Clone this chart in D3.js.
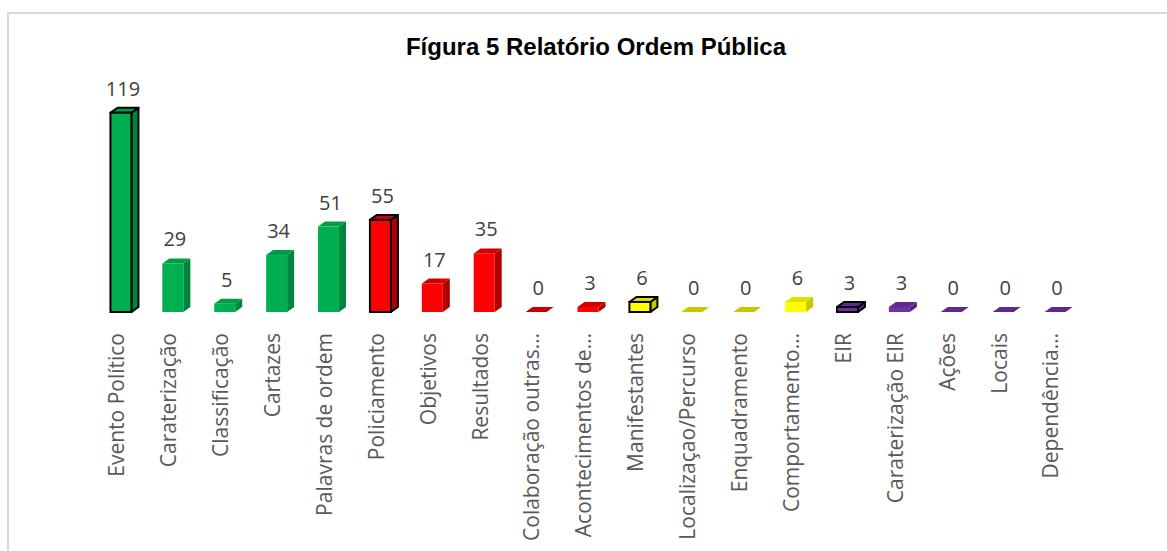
<!DOCTYPE html>
<meta charset="utf-8">
<head>
    <style>
        body {margin: 0; background: #fff;}
        .cat {font-family: "Open Sans", sans-serif; font-size: 21px; fill: #595959;}
        .val {font-family: "Open Sans", sans-serif; font-size: 20px; fill: #404040;}
        .title {font-family: "Liberation Sans", Arial, sans-serif; font-size: 24px; font-weight: bold; fill: #000;}
    </style>
    <script src="https://d3js.org/d3.v7.min.js"></script>
</head>
<body>
<script>

    var categories = ["Evento Político", "Caraterização", "Classificação", "Cartazes", "Palavras de ordem",
        "Policiamento", "Objetivos", "Resultados", "Colaboração outras…", "Acontecimentos de…",
        "Manifestantes", "Localizaçao/Percurso", "Enquadramento", "Comportamento…", "EIR",
        "Caraterização EIR", "Ações", "Locais", "Dependência…"],
        values = [119, 29, 5, 34, 51, 55, 17, 35, 0, 3, 6, 0, 0, 6, 3, 3, 0, 0, 0],
        groups = ["g", "g", "g", "g", "g", "r", "r", "r", "r", "r", "y", "y", "y", "y", "p", "p", "p", "p", "p"],
        outlined = ["Evento Político", "Policiamento", "Manifestantes", "EIR"];

    // front, side, top, flat (zero bar)
    var palette = {
        g: ["#00b050", "#00853c", "#009c46", "#009c46"],
        r: ["#ff0000", "#b00000", "#d00000", "#c80000"],
        y: ["#ffff00", "#c8c800", "#e0e000", "#c8c800"],
        p: ["#7030a0", "#552478", "#622a8c", "#602890"]
    };

    var width = 1167, height = 551,
        faceW = 21, dx = 7, dy = 5;

    var svg = d3.select("body").append("svg")
        .attr("width", width)
        .attr("height", height);

    svg.append("rect")
        .attr("x", 8).attr("y", 13)
        .attr("width", 1200).attr("height", 600)
        .attr("fill", "none")
        .attr("stroke", "#d9d9d9")
        .attr("stroke-width", 2);

    svg.append("text")
        .attr("class", "title")
        .attr("x", 596).attr("y", 55)
        .attr("text-anchor", "middle")
        .text("Fígura 5 Relatório Ordem Pública");

    var x = d3.scaleBand()
        .domain(categories)
        .range([92, 1078])
        .padding(0);

    var y = d3.scaleLinear()
        .domain([0, 119])
        .range([312, 112.7]);

    var rows = categories.map(function(c, i) {
        return {name: c, value: values[i], group: groups[i], hi: outlined.indexOf(c) >= 0};
    });

    function cx(d) { return x(d.name) + x.bandwidth() / 2; }

    var bars = svg.append("g").selectAll("g")
        .data(rows)
      .enter().append("g");

    bars.each(function(d) {
        var g = d3.select(this),
            col = palette[d.group],
            x0 = cx(d) - 7.5,
            x1 = x0 + faceW,
            yt = y(d.value),
            yb = y(0),
            stroke = d.hi ? "#000" : "none",
            sw = d.hi ? 2 : 0;

        if (d.value === 0) {
            g.append("path")
                .attr("d", "M" + x0 + "," + yb + "L" + x1 + "," + yb + "L" + (x1 + dx) + "," + (yb - dy) +
                    "L" + (x0 + dx) + "," + (yb - dy) + "Z")
                .attr("fill", col[3]);
            return;
        }
        // side
        g.append("path")
            .attr("d", "M" + x1 + "," + yb + "L" + (x1 + dx) + "," + (yb - dy) + "L" + (x1 + dx) + "," + (yt - dy) +
                "L" + x1 + "," + yt + "Z")
            .attr("fill", col[1])
            .attr("stroke", stroke).attr("stroke-width", sw).attr("stroke-linejoin", "round");
        // top
        g.append("path")
            .attr("d", "M" + x0 + "," + yt + "L" + x1 + "," + yt + "L" + (x1 + dx) + "," + (yt - dy) +
                "L" + (x0 + dx) + "," + (yt - dy) + "Z")
            .attr("fill", col[2])
            .attr("stroke", stroke).attr("stroke-width", sw).attr("stroke-linejoin", "round");
        // front
        g.append("rect")
            .attr("x", x0).attr("y", yt)
            .attr("width", faceW).attr("height", yb - yt)
            .attr("fill", col[0])
            .attr("stroke", stroke).attr("stroke-width", sw);
    });

    svg.append("g").selectAll("text")
        .data(rows)
      .enter().append("text")
        .attr("class", "val")
        .attr("x", function(d) { return cx(d) + 5; })
        .attr("y", function(d) { return y(d.value) - dy - 12; })
        .attr("text-anchor", "middle")
        .text(function(d) { return d.value; });

    svg.append("g").selectAll("text")
        .data(rows)
      .enter().append("text")
        .attr("class", "cat")
        .attr("transform", function(d) { return "translate(" + (cx(d) - 1) + ",333) rotate(-90)"; })
        .attr("dy", "0.35em")
        .attr("text-anchor", "end")
        .text(function(d) { return d.name; });

</script>
</body>
